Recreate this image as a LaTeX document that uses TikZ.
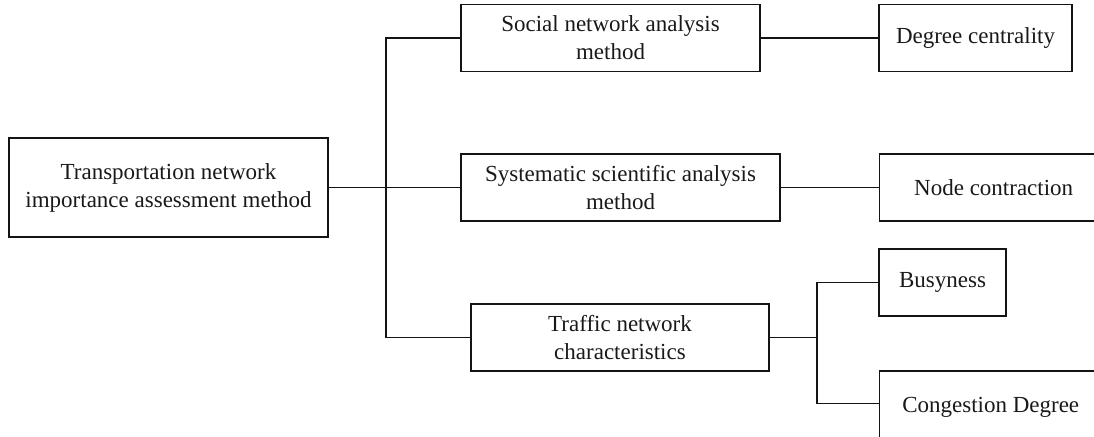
\documentclass[tikz,border=0pt]{standalone}
\usepackage{xcolor}
\usepackage{fontspec}
\usepackage{tikz}
\usetikzlibrary{calc}
\setmainfont{Liberation Serif}
\definecolor{lineColor}{RGB}{20, 20, 20}
\definecolor{textColor}{RGB}{25, 25, 25}

\begin{document}
\begin{tikzpicture}[x=1pt, y=-1pt,
    boxStyle/.style={draw=lineColor, line width=1.4pt, inner sep=0pt, align=center,
        minimum height=67pt, text=textColor,
        font=\fontsize{23}{28}\selectfont},
    linkStyle/.style={draw=lineColor, line width=1.4pt}]
    \useasboundingbox (0,0) rectangle (1094,436);

    % Root method box
    \node[boxStyle, minimum width=319pt, minimum height=99pt] (rootBox) at (168.5,187.5)
        {Transportation network\\importance assessment method};

    % Second level boxes
    \node[boxStyle, minimum width=299pt] (socialBox) at (610.5,38)
        {Social network analysis\\method};
    \node[boxStyle, minimum width=319pt] (systemBox) at (620.5,187.5)
        {Systematic scientific analysis\\method};
    \node[boxStyle, minimum width=298pt] (trafficBox) at (620,337.5)
        {Traffic network\\characteristics};

    % Third level boxes
    \node[boxStyle, minimum width=193pt] (degreeBox) at (975.5,38) {Degree centrality};
    \node[boxStyle, minimum width=228pt, anchor=west] (contractBox) at (879,187.5) {Node contraction};
    \node[boxStyle, minimum width=127pt] (busyBox) at (942.5,282.5) {Busyness};
    \node[boxStyle, minimum width=222pt, minimum height=72pt, anchor=west] (congestBox) at (879,407) {Congestion Degree};

    % Junction points
    \coordinate (trunkTop) at (386,38);
    \coordinate (trunkMid) at (386,187.5);
    \coordinate (trunkBot) at (386,337.5);
    \coordinate (forkMid) at (817,337.5);
    \coordinate (forkTop) at (817,282.5);
    \coordinate (forkBot) at (817,403.5);

    % Connectors
    \draw[linkStyle] (rootBox.east) -- (trunkMid) -- (systemBox.west);
    \draw[linkStyle] (socialBox.west) -- (trunkTop) -- (trunkBot) -- (trafficBox.west);
    \draw[linkStyle] (socialBox.east) -- (degreeBox.west);
    \draw[linkStyle] (systemBox.east) -- (contractBox.west);
    \draw[linkStyle] (trafficBox.east) -- (forkMid);
    \draw[linkStyle] (busyBox.west) -- (forkTop) -- (forkBot) -- (congestBox.west |- forkBot);
\end{tikzpicture}
\end{document}
